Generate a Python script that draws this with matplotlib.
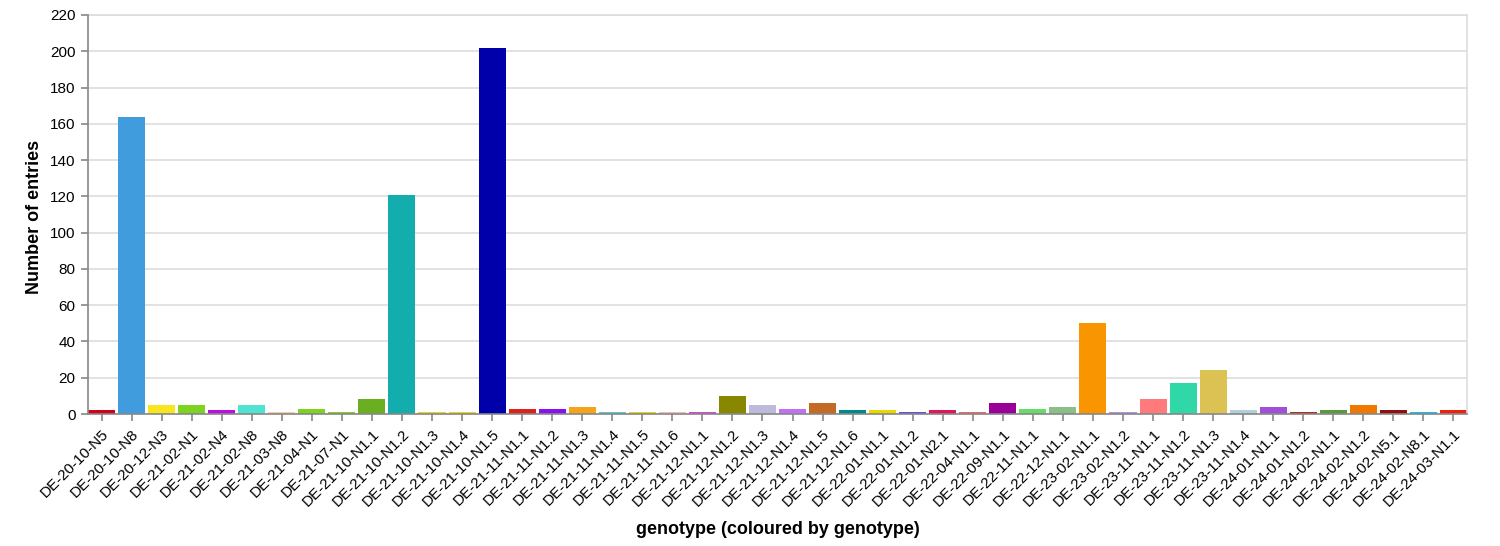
import matplotlib
matplotlib.use("Agg")
import matplotlib.pyplot as plt

genotypes = [
    "DE-20-10-N5", "DE-20-10-N8", "DE-20-12-N3", "DE-21-02-N1", "DE-21-02-N4",
    "DE-21-02-N8", "DE-21-03-N8", "DE-21-04-N1", "DE-21-07-N1", "DE-21-10-N1.1",
    "DE-21-10-N1.2", "DE-21-10-N1.3", "DE-21-10-N1.4", "DE-21-10-N1.5", "DE-21-11-N1.1",
    "DE-21-11-N1.2", "DE-21-11-N1.3", "DE-21-11-N1.4", "DE-21-11-N1.5", "DE-21-11-N1.6",
    "DE-21-12-N1.1", "DE-21-12-N1.2", "DE-21-12-N1.3", "DE-21-12-N1.4", "DE-21-12-N1.5",
    "DE-21-12-N1.6", "DE-22-01-N1.1", "DE-22-01-N1.2", "DE-22-01-N2.1", "DE-22-04-N1.1",
    "DE-22-09-N1.1", "DE-22-11-N1.1", "DE-22-12-N1.1", "DE-23-02-N1.1", "DE-23-02-N1.2",
    "DE-23-11-N1.1", "DE-23-11-N1.2", "DE-23-11-N1.3", "DE-23-11-N1.4", "DE-24-01-N1.1",
    "DE-24-01-N1.2", "DE-24-02-N1.1", "DE-24-02-N1.2", "DE-24-02-N5.1", "DE-24-02-N8.1",
    "DE-24-03-N1.1",
]

counts = [
    2, 164, 5, 5, 2,
    5, 1, 3, 1, 8,
    121, 1, 1, 202, 3,
    3, 4, 1, 1, 1,
    1, 10, 5, 3, 6,
    2, 2, 1, 2, 1,
    6, 3, 4, 50, 1,
    8, 17, 24, 2, 4,
    1, 2, 5, 2, 1,
    2,
]

colors = [
    "#d0021b", "#409cdc", "#f8e51e", "#7ed321", "#bd10e0",
    "#50e3d2", "#f8cca0", "#7ed321", "#7ed321", "#6aaf22",
    "#14adad", "#e6d61c", "#e6d61c", "#0000aa", "#e01f1f",
    "#8b10f0", "#f5a31a", "#5ac8c8", "#e6d21c", "#f5b8b8",
    "#e040e0", "#888800", "#bdbadb", "#c070f8", "#c46a22",
    "#00898a", "#e8d800", "#6650d8", "#e0185a", "#e86868",
    "#990099", "#66dd66", "#8abf88", "#f89500", "#b690e0",
    "#ff7a7a", "#30d8a8", "#dcc252", "#b0d0d8", "#a050d8",
    "#b03020", "#5a9a3a", "#f07800", "#901010", "#10c0f0",
    "#f02010",
]

yticks = list(range(0, 221, 20))

plt.rcParams["font.family"] = ["Liberation Sans", "DejaVu Sans"]

fig = plt.figure(figsize=(15, 5.46), dpi=100)
ax = fig.add_axes([88 / 1500, 1 - 414 / 546, (1467 - 88) / 1500, (414 - 15) / 546])

x = list(range(len(genotypes)))
ax.bar(x, counts, width=0.9, color=colors, zorder=2)

ax.set_xlim(-0.45, len(genotypes) - 0.55)
ax.set_ylim(0, 220)
ax.set_yticks(yticks)
ax.set_xticks(x)
ax.set_xticklabels(genotypes, rotation=45, ha="right", rotation_mode="anchor", fontsize=11)
ax.tick_params(axis="y", labelsize=11, length=5, width=1.2, color="#888888", pad=4)
ax.tick_params(axis="x", length=5, width=1.2, color="#888888", pad=4)

ax.grid(axis="y", color="#dddddd", linewidth=1.2, zorder=0)
ax.set_axisbelow(True)

for side in ["left", "bottom"]:
    ax.spines[side].set_color("#888888")
    ax.spines[side].set_linewidth(1.2)
    ax.spines[side].set_zorder(3)
for side in ["top", "right"]:
    ax.spines[side].set_color("#dddddd")
    ax.spines[side].set_linewidth(1.2)

ylab = ax.set_ylabel("Number of entries", fontsize=13, fontweight="bold")
ylab.set_va("center")
ax.yaxis.set_label_coords(-(88 - 35) / 1379, 0.495)

xlab = ax.set_xlabel("genotype (coloured by genotype)", fontsize=13, fontweight="bold")
xlab.set_va("center")
ax.xaxis.set_label_coords(0.5, -(530 - 414) / 399)

fig.savefig("out.png", dpi=100, facecolor="white")
